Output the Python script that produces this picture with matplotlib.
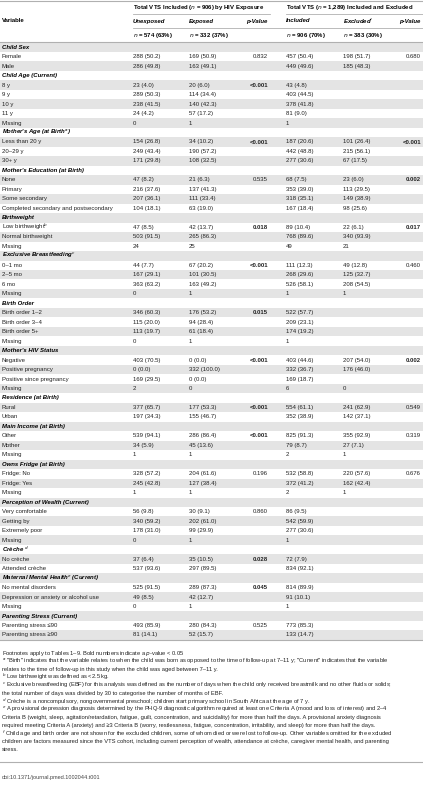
import matplotlib.pyplot as plt

plt.rcParams['font.family'] = ['Liberation Sans', 'DejaVu Sans']
plt.rcParams['mathtext.fontset'] = 'custom'
plt.rcParams['mathtext.rm'] = 'Liberation Sans'

# row labels; entries starting with '#' are section headers
labels = [
    '#Child Sex', 'Female', 'Male',
    '#Child Age (Current)', '8 y', '9 y', '10 y', '11 y', 'Missing',
    "#Mother's Age (at Birth$^{a}$)", 'Less than 20 y', '20–29 y', '30+ y',
    "#Mother's Education (at Birth)", 'None', 'Primary', 'Some secondary',
    'Completed secondary and postsecondary',
    '#Birthweight', 'Low birthweight$^{b}$', 'Normal birthweight', 'Missing',
    '#Exclusive Breastfeeding$^{c}$', '0–1 mo', '2–5 mo', '6 mo', 'Missing',
    '#Birth Order', 'Birth order 1–2', 'Birth order 3–4', 'Birth order 5+', 'Missing',
    "#Mother's HIV Status", 'Negative', 'Positive pregnancy', 'Positive since pregnancy', 'Missing',
    '#Residence (at Birth)', 'Rural', 'Urban',
    '#Main Income (at Birth)', 'Other', 'Mother', 'Missing',
    '#Owns Fridge (at Birth)', 'Fridge: No', 'Fridge: Yes', 'Missing',
    '#Perception of Wealth (Current)', 'Very comfortable', 'Getting by', 'Extremely poor', 'Missing',
    '#Crèche $^{d}$', 'No crèche', 'Attended crèche',
    '#Maternal Mental Health$^{e}$ (Current)', 'No mental disorders',
    'Depression or anxiety or alcohol use', 'Missing',
    '#Parenting Stress (Current)', 'Parenting stress ≤90', 'Parenting stress ≥90',
]
unexposed = ['', '288 (50.2)', '286 (49.8)', '', '23 (4.0)', '289 (50.3)', '238 (41.5)', '24 (4.2)', '0',
             '', '154 (26.8)', '249 (43.4)', '171 (29.8)', '', '47 (8.2)', '216 (37.6)', '207 (36.1)', '104 (18.1)',
             '', '47 (8.5)', '503 (91.5)', '24', '', '44 (7.7)', '167 (29.1)', '363 (63.2)', '0',
             '', '346 (60.3)', '115 (20.0)', '113 (19.7)', '0', '', '403 (70.5)', '0 (0.0)', '169 (29.5)', '2',
             '', '377 (65.7)', '197 (34.3)', '', '539 (94.1)', '34 (5.9)', '1', '', '328 (57.2)', '245 (42.8)', '1',
             '', '56 (9.8)', '340 (59.2)', '178 (31.0)', '0', '', '37 (6.4)', '537 (93.6)',
             '', '525 (91.5)', '49 (8.5)', '0', '', '493 (85.9)', '81 (14.1)']
exposed = ['', '169 (50.9)', '163 (49.1)', '', '20 (6.0)', '114 (34.4)', '140 (42.3)', '57 (17.2)', '1',
           '', '34 (10.2)', '190 (57.2)', '108 (32.5)', '', '21 (6.3)', '137 (41.3)', '111 (33.4)', '63 (19.0)',
           '', '42 (13.7)', '265 (86.3)', '25', '', '67 (20.2)', '101 (30.5)', '163 (49.2)', '1',
           '', '176 (53.2)', '94 (28.4)', '61 (18.4)', '1', '', '0 (0.0)', '332 (100.0)', '0 (0.0)', '0',
           '', '177 (53.3)', '155 (46.7)', '', '286 (86.4)', '45 (13.6)', '1', '', '204 (61.6)', '127 (38.4)', '1',
           '', '30 (9.1)', '202 (61.0)', '99 (29.9)', '1', '', '35 (10.5)', '297 (89.5)',
           '', '289 (87.3)', '42 (12.7)', '1', '', '280 (84.3)', '52 (15.7)']
p_exposure = ['', '0.832', '', '', '<0.001', '', '', '', '',
              '', '<0.001', '', '', '', '0.535', '', '', '',
              '', '0.018', '', '', '', '<0.001', '', '', '',
              '', '0.015', '', '', '', '', '<0.001', '', '', '',
              '', '<0.001', '', '', '<0.001', '', '', '', '0.196', '', '',
              '', '0.860', '', '', '', '', '0.028', '',
              '', '0.045', '', '', '', '0.525', '']
included = ['', '457 (50.4)', '449 (49.6)', '', '43 (4.8)', '403 (44.5)', '378 (41.8)', '81 (9.0)', '1',
            '', '187 (20.6)', '442 (48.8)', '277 (30.6)', '', '68 (7.5)', '353 (39.0)', '318 (35.1)', '167 (18.4)',
            '', '89 (10.4)', '768 (89.6)', '49', '', '111 (12.3)', '268 (29.6)', '526 (58.1)', '1',
            '', '522 (57.7)', '209 (23.1)', '174 (19.2)', '1', '', '403 (44.6)', '332 (36.7)', '169 (18.7)', '6',
            '', '554 (61.1)', '352 (38.9)', '', '825 (91.3)', '79 (8.7)', '2', '', '532 (58.8)', '372 (41.2)', '2',
            '', '86 (9.5)', '542 (59.9)', '277 (30.6)', '1', '', '72 (7.9)', '834 (92.1)',
            '', '814 (89.9)', '91 (10.1)', '1', '', '773 (85.3)', '133 (14.7)']
excluded = ['', '198 (51.7)', '185 (48.3)', '', '', '', '', '', '',
            '', '101 (26.4)', '215 (56.1)', '67 (17.5)', '', '23 (6.0)', '113 (29.5)', '149 (38.9)', '98 (25.6)',
            '', '22 (6.1)', '340 (93.9)', '21', '', '49 (12.8)', '125 (32.7)', '208 (54.5)', '1',
            '', '', '', '', '', '', '207 (54.0)', '176 (46.0)', '', '0',
            '', '241 (62.9)', '142 (37.1)', '', '355 (92.9)', '27 (7.1)', '1', '', '220 (57.6)', '162 (42.4)', '1',
            '', '', '', '', '', '', '', '',
            '', '', '', '', '', '', '']
p_inclusion = ['', '0.680', '', '', '', '', '', '', '',
               '', '<0.001', '', '', '', '0.002', '', '', '',
               '', '0.017', '', '', '', '0.460', '', '', '',
               '', '', '', '', '', '', '0.002', '', '', '',
               '', '0.549', '', '', '0.319', '', '', '', '0.676', '', '',
               '', '', '', '', '', '', '', '',
               '', '', '', '', '', '', '']

footnotes = [
    'Footnotes apply to Tables 1–9. Bold numbers indicate a $p$-value < 0.05',
    '$^{a}$ "Birth" indicates that the variable relates to when the child was born as opposed to the time of follow-up at 7–11 y; "Current" indicates that the variable',
    'relates to the time of follow-up in this study when the child was aged between 7–11 y.',
    '$^{b}$ Low birthweight was defined as <2.5 kg.',
    '$^{c}$ Exclusive breastfeeding (EBF) for this analysis was defined as the number of days when the child only received breastmilk and no other fluids or solids;',
    'the total number of days was divided by 30 to categorise the number of months of EBF.',
    '$^{d}$ Crèche is a noncompulsory, nongovernmental preschool; children start primary school in South Africa at the age of 7 y.',
    '$^{e}$ A provisional depression diagnosis determined by the PHQ-9 diagnostic algorithm required at least one Criteria A (mood and loss of interest) and 2–4',
    'Criteria B (weight, sleep, agitation/retardation, fatigue, guilt, concentration, and suicidality) for more than half the days. A provisional anxiety diagnosis',
    'required meeting Criteria A (anxiety) and ≥3 Criteria B (worry, restlessness, fatigue, concentration, irritability, and sleep) for more than half the days.',
    '$^{f}$ Child age and birth order are not shown for the excluded children, some of whom died or were lost to follow-up. Other variables omitted for the excluded',
    'children are factors measured since the VTS cohort, including current perception of wealth, attendance at crèche, caregiver mental health, and parenting',
    'stress.',
]

W, H = 423, 800
fig = plt.figure(figsize=(W / 100, H / 100), dpi=100)
ax = fig.add_axes([0, 0, 1, 1])
ax.set_xlim(0, W)
ax.set_ylim(H, 0)
ax.axis('off')

fs = 4.3
col_x = [2, 133, 189, 268, 286, 343, 421]
line_c = '#b0b0b0'


def is_bold(p):
    if not p:
        return False
    if p.startswith('<'):
        return True
    return float(p) < 0.05


# header
ax.plot([0, W], [0.5, 0.5], color=line_c, lw=0.8)
ax.text(col_x[1], 7, 'Total VTS Included ($n$ = 906) by HIV Exposure', fontsize=fs, fontweight='bold', va='center')
ax.text(col_x[4], 7, 'Total VTS ($n$ = 1,289) Included and Excluded', fontsize=fs, fontweight='bold', va='center')
ax.plot([col_x[1], 270], [14, 14], color=line_c, lw=0.6)
ax.plot([col_x[4], W], [14, 14], color=line_c, lw=0.6)
ax.text(col_x[0], 21, 'Variable', fontsize=fs, fontweight='bold', va='center')
for x, t, ha in [(col_x[1], 'Unexposed', 'left'), (col_x[2], 'Exposed', 'left'), (col_x[3], 'p-Value', 'right'),
                 (col_x[4], 'Included', 'left'), (col_x[5], 'Excluded$^{f}$', 'left'), (col_x[6], 'p-Value', 'right')]:
    ax.text(x, 21, t, fontsize=fs, fontweight='bold', fontstyle='italic', va='center', ha=ha)
ax.plot([col_x[1], W], [28, 28], color=line_c, lw=0.6)
for x, t in [(col_x[1], '$n$ = 574 (63%)'), (col_x[2], '$n$ = 332 (37%)'),
             (col_x[4], '$n$ = 906 (70%)'), (col_x[5], '$n$ = 383 (30%)')]:
    ax.text(x, 35, t, fontsize=fs, fontweight='bold', va='center')
ax.plot([0, W], [42.3, 42.3], color=line_c, lw=0.8)

# body
y0, dy = 47.2, 9.48
for i, lab in enumerate(labels):
    y = y0 + i * dy
    if i % 2 == 0:
        ax.add_patch(plt.Rectangle((0, y - dy / 2), W, dy, color='#e4e4e4', lw=0, zorder=0))
    if lab.startswith('#'):
        ax.text(col_x[0], y, lab[1:], fontsize=fs, fontweight='bold', fontstyle='italic', va='center')
        continue
    ax.text(col_x[0], y, lab, fontsize=fs, va='center', color='#222222')
    for x, v in [(col_x[1], unexposed[i]), (col_x[2], exposed[i]), (col_x[4], included[i]), (col_x[5], excluded[i])]:
        ax.text(x, y, v, fontsize=fs, va='center', color='#222222')
    for x, p in [(col_x[3], p_exposure[i]), (col_x[6], p_inclusion[i])]:
        ax.text(x, y, p, fontsize=fs, va='center', ha='right', color='#222222',
                fontweight='bold' if is_bold(p) else 'normal')
ybot = y0 + (len(labels) - 0.5) * dy
ax.plot([0, W], [ybot, ybot], color=line_c, lw=0.8)

# footnotes
fy = [653, 661, 669, 677, 685.5, 693.5, 701.5, 709.5, 717.5, 725.5, 733.5, 741.5, 749.5]
for y, t in zip(fy, footnotes):
    ax.text(col_x[0], y, t, fontsize=4.15, va='center', color='#222222')
ax.plot([0, W], [762, 762], color=line_c, lw=0.8)
ax.text(col_x[0], 777, 'doi:10.1371/journal.pmed.1002044.t001', fontsize=4.0, va='center', color='#444444')

fig.savefig('out.png', dpi=100)
